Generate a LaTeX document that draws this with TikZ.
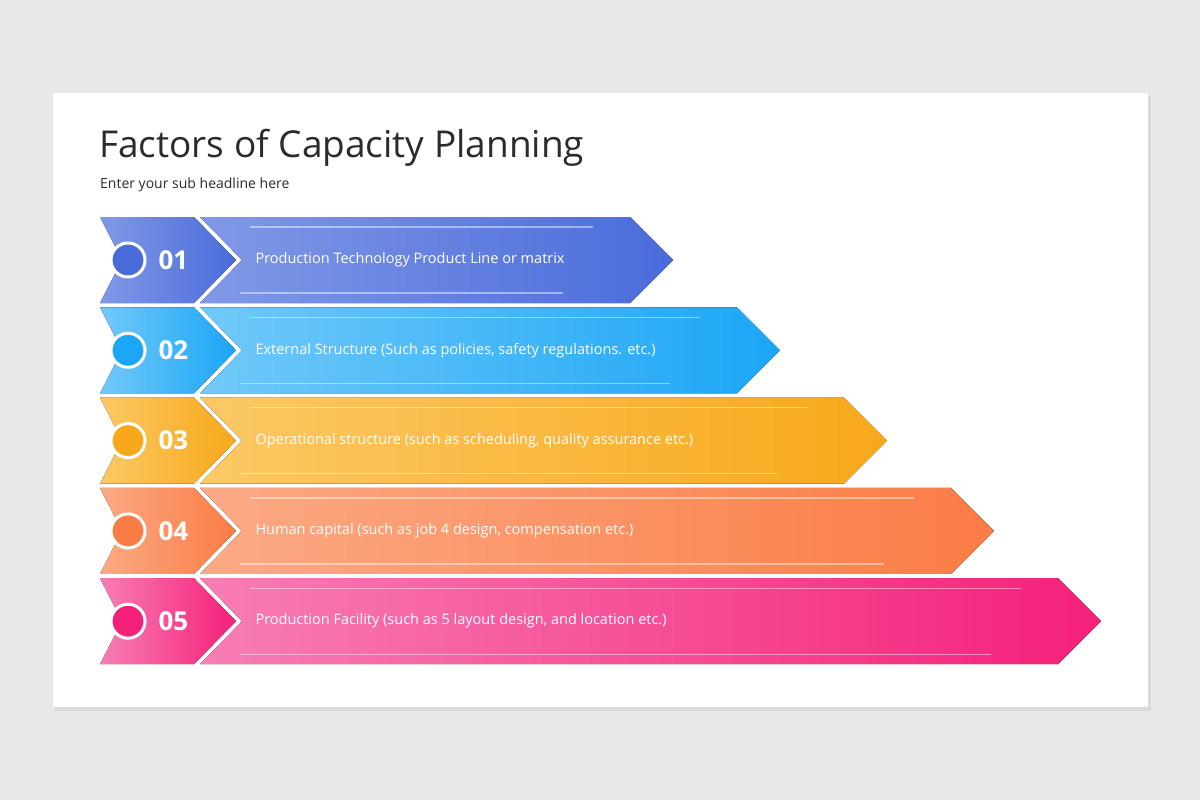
\documentclass[tikz,border=0pt]{standalone}
\usepackage{fontspec}
\setmainfont{Open Sans}
\usetikzlibrary{calc,positioning}
\definecolor{pagebg}{HTML}{E9E7E9}
\definecolor{titlegray}{HTML}{2B2B2B}
\definecolor{darkA}{HTML}{4A6CDB}\definecolor{lightA}{HTML}{8199E6}
\definecolor{darkB}{HTML}{1BA6F6}\definecolor{lightB}{HTML}{72C9F9}
\definecolor{darkC}{HTML}{F8A81A}\definecolor{lightC}{HTML}{FBC965}
\definecolor{darkD}{HTML}{FB7C45}\definecolor{lightD}{HTML}{FBAA85}
\definecolor{darkE}{HTML}{F5207A}\definecolor{lightE}{HTML}{F77EB4}
\tikzset{
  numtext/.style={text=white,font=\fontsize{26}{26}\selectfont\bfseries,anchor=west},
  itemtext/.style={text=white,font=\fontsize{14.5}{16}\selectfont,anchor=west},
  dot/.style={circle,draw=white,line width=3pt,minimum size=34pt,inner sep=0pt},
  glint/.style={white,opacity=0.45,line width=1.2pt}
}
\begin{document}
\begin{tikzpicture}[x=1pt,y=-1pt]
  \fill[pagebg] (0,0) rectangle (1200,800);
  \useasboundingbox (0,0) rectangle (1200,800);
  \fill[black,opacity=0.06] (55,96) rectangle (1151,711);
  \fill[white] (53,93) rectangle (1148,707);

  \node[anchor=base west,inner sep=0pt,text=titlegray,font=\fontsize{37}{40}\selectfont] (title) at (99,157) {Factors of Capacity Planning};
  \node[anchor=base west,inner sep=0pt,text=titlegray,font=\fontsize{14}{16}\selectfont] (sub) at (100,188) {Enter your sub headline here};

  \foreach \i/\c/\num/\txt in {
    1/A/01/{Production Technology  Product Line or matrix},
    2/B/02/{External Structure (Such as policies, safety regulations. etc.)},
    3/C/03/{Operational structure (such as scheduling, quality assurance etc.)},
    4/D/04/{Human capital (such as job 4 design, compensation etc.)},
    5/E/05/{Production Facility (such as 5 layout design, and location etc.)}} {
    \pgfmathsetmacro{\yc}{260+90.3*(\i-1)}
    \pgfmathsetmacro{\tip}{673+107*(\i-1)}
    % left tab
    \fill[left color=light\c,right color=dark\c]
      (100,\yc-43) -- (194,\yc-43) -- (236,\yc) -- (194,\yc+43) -- (100,\yc+43) -- (122,\yc) -- cycle;
    % long arrow
    \fill[left color=light\c,right color=dark\c]
      (200,\yc-43) -- (\tip-43,\yc-43) -- (\tip,\yc) -- (\tip-43,\yc+43) -- (200,\yc+43) -- (242,\yc) -- cycle;
    \draw[glint] (250,\yc-33) -- (\tip-80,\yc-33);
    \draw[glint] (240,\yc+33) -- (\tip-110,\yc+33);
    \node[dot,fill=dark\c] (dot\i) at (128,\yc) {};
    \node[numtext] (num\i) at (155,\yc) {\num};
    \node[itemtext] (item\i) at (252,\yc) {\txt};
  }
\end{tikzpicture}
\end{document}
